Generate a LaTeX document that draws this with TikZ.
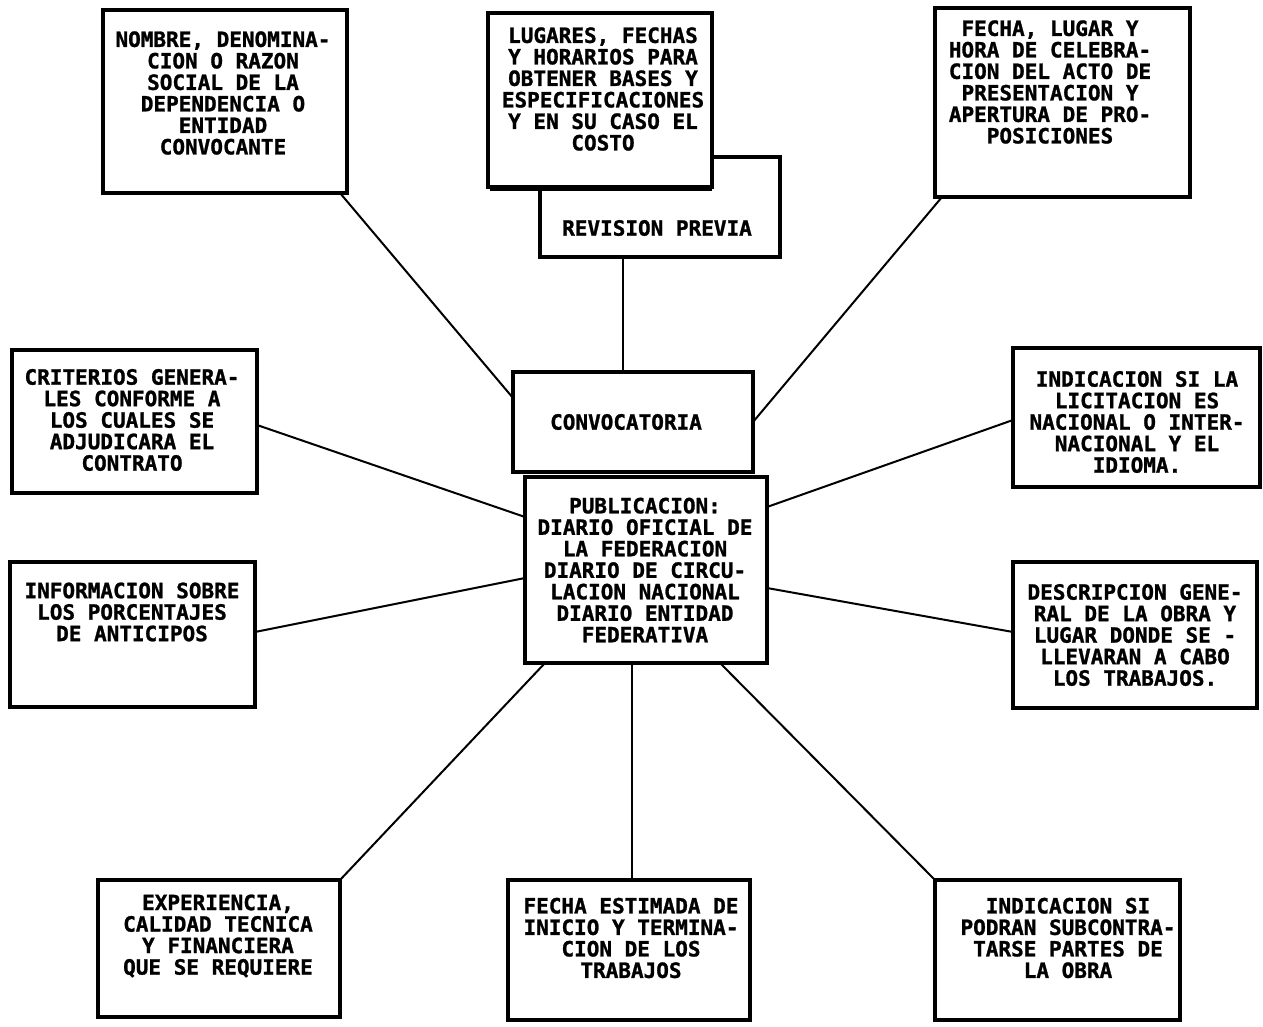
\documentclass[tikz,border=0pt]{standalone}
\usepackage{fontspec}
\newfontfamily\boxfont{DejaVu Sans Mono Bold}[FakeBold=1.2]
\usetikzlibrary{calc}
\tikzset{
  boxnode/.style={draw, line width=3.5pt, fill=white, rectangle, inner sep=0pt, outer sep=0pt},
  txt/.style={align=center, inner sep=0pt, font=\boxfont\fontsize{21}{21.5}\selectfont},
  conn/.style={line width=2pt}
}
\begin{document}
\begin{tikzpicture}[x=1pt, y=-1pt]
\useasboundingbox (0,0) rectangle (1263,1027);
% boxes
\node[boxnode, minimum width=240pt, minimum height=100pt] (revision) at (660,207) {};
\node[boxnode, minimum width=224pt, minimum height=174pt] (lugares) at (600,100) {};
\fill ($(lugares.south west)+(2,0)$) rectangle ($(lugares.south east)+(0,4)$);
\node[boxnode, minimum width=244pt, minimum height=183pt] (nombre) at (225,101.5) {};
\node[boxnode, minimum width=255pt, minimum height=189pt] (fecha) at (1062.5,102.5) {};
\node[boxnode, minimum width=240pt, minimum height=100pt] (conv) at (633,422) {};
\node[boxnode, minimum width=242pt, minimum height=186pt] (pub) at (646,570) {};
\node[boxnode, minimum width=245pt, minimum height=143pt] (criterios) at (134.5,421.5) {};
\node[boxnode, minimum width=247pt, minimum height=139pt] (indic) at (1136.5,417.5) {};
\node[boxnode, minimum width=245pt, minimum height=145pt] (informacion) at (132.5,634.5) {};
\node[boxnode, minimum width=244pt, minimum height=146pt] (descripcion) at (1135,635) {};
\node[boxnode, minimum width=242pt, minimum height=137pt] (experiencia) at (219,948.5) {};
\node[boxnode, minimum width=242pt, minimum height=140pt] (fechaest) at (629,950) {};
\node[boxnode, minimum width=245pt, minimum height=140pt] (podran) at (1057.5,950) {};
% texts
\node[txt] (tnombre) at (223,93) {NOMBRE, DENOMINA-\\CION O RAZON\\SOCIAL DE LA\\DEPENDENCIA O\\ENTIDAD\\CONVOCANTE};
\node[txt] (tlugares) at (603,89) {LUGARES, FECHAS\\Y HORARIOS PARA\\OBTENER BASES Y\\ESPECIFICACIONES\\Y EN SU CASO EL\\COSTO};
\node[txt] (tfecha) at (1050,82) {FECHA, LUGAR Y\\HORA DE CELEBRA-\\CION DEL ACTO DE\\PRESENTACION Y\\APERTURA DE PRO-\\POSICIONES};
\node[txt] (trevision) at (657,228) {REVISION PREVIA};
\node[txt] (tconv) at (626,422) {CONVOCATORIA};
\node[txt] (tpub) at (645,570) {PUBLICACION:\\DIARIO OFICIAL DE\\LA FEDERACION\\DIARIO DE CIRCU-\\LACION NACIONAL\\DIARIO ENTIDAD\\FEDERATIVA};
\node[txt] (tcriterios) at (132,420) {CRITERIOS GENERA-\\LES CONFORME A\\LOS CUALES SE\\ADJUDICARA EL\\CONTRATO};
\node[txt] (tindic) at (1137,422) {INDICACION SI LA\\LICITACION ES\\NACIONAL O INTER-\\NACIONAL Y EL\\IDIOMA.};
\node[txt] (tinformacion) at (132,612) {INFORMACION SOBRE\\LOS PORCENTAJES\\DE ANTICIPOS};
\node[txt] (tdescripcion) at (1135,635) {DESCRIPCION GENE-\\RAL DE LA OBRA Y\\LUGAR DONDE SE -\\LLEVARAN A CABO\\LOS TRABAJOS.};
\node[txt] (texperiencia) at (218,936) {EXPERIENCIA,\\CALIDAD TECNICA\\Y FINANCIERA\\QUE SE REQUIERE};
\node[txt] (tfechaest) at (631,938) {FECHA ESTIMADA DE\\INICIO Y TERMINA-\\CION DE LOS\\TRABAJOS};
\node[txt] (tpodran) at (1068,938) {INDICACION SI\\PODRAN SUBCONTRA-\\TARSE PARTES DE\\LA OBRA};
% connectors
\draw[conn] ($(nombre.south east)+(-7,0)$) -- ($(conv.north west)+(0,26)$);
\draw[conn] ($(fecha.south west)+(7,0)$) -- ($(conv.north east)+(0,50)$);
\draw[conn] ($(revision.south)+(-37,0)$) -- ($(conv.north)+(-10,0)$);
\draw[conn] ($(criterios.east)+(0,3.5)$) -- ($(pub.west)+(0,-53)$);
\draw[conn] ($(informacion.east)+(0,-2.5)$) -- ($(pub.west)+(0,8)$);
\draw[conn] ($(indic.west)+(0,2.5)$) -- ($(pub.east)+(0,-63)$);
\draw[conn] ($(descripcion.west)+(0,-3)$) -- ($(pub.east)+(0,18)$);
\draw[conn] ($(pub.south)+(-101,0)$) -- (experiencia.north east);
\draw[conn] ($(pub.south)+(-14,0)$) -- ($(fechaest.north)+(3,0)$);
\draw[conn] ($(pub.south)+(74,0)$) -- (podran.north west);
\end{tikzpicture}
\end{document}
